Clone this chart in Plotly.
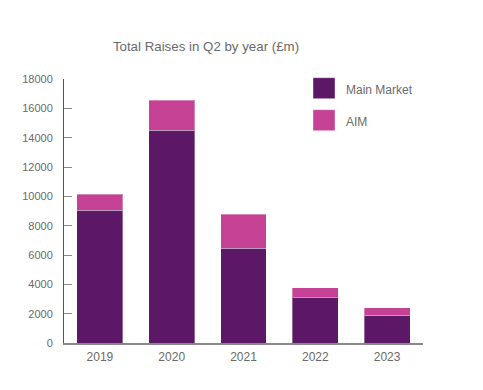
import plotly.graph_objects as go

years = ["2019", "2020", "2021", "2022", "2023"]
main_market = [9050, 14500, 6450, 3100, 1880]
aim = [1100, 2050, 2330, 660, 540]
series_names = ["Main Market", "AIM"]
colors = ["#5C1866", "#C44194"]
title_text = "Total Raises in Q2 by year (£m)"
y_ticks = [0, 2000, 4000, 6000, 8000, 10000, 12000, 14000, 16000, 18000]

font_family = "Liberation Sans, Arial, Helvetica, sans-serif"
grey = "#6a6a6a"

# the page body adds an 8px offset; compensate in margins
OFF = 8
plot_left, plot_right, plot_top, plot_bottom = 64, 423, 79.3, 343.3
W, H = 483, 390

fig = go.Figure()
for name, vals, col in zip(series_names, [main_market, aim], colors):
    fig.add_trace(go.Bar(
        x=years, y=vals, name=name, marker_color=col,
        marker_line=dict(color="rgba(255,255,255,0.35)", width=1),
        showlegend=False,
    ))

pw = plot_right - plot_left
ph = plot_bottom - plot_top
# manual legend (squares + labels)
for i, (name, col) in enumerate(zip(series_names, colors)):
    y0 = 78 + i * 32
    fig.add_shape(type="rect", xref="paper", yref="paper",
                  x0=(313 - plot_left) / pw, x1=(335 - plot_left) / pw,
                  y0=(plot_bottom - (y0 + 21)) / ph, y1=(plot_bottom - y0) / ph,
                  fillcolor=col, line=dict(color="rgba(255,255,255,0.4)", width=1))
    fig.add_annotation(text=name, xref="paper", yref="paper",
                       x=(344 - plot_left) / pw, y=(plot_bottom - (y0 + 12)) / ph,
                       xanchor="left", yanchor="middle", showarrow=False,
                       font=dict(family=font_family, size=12, color=grey))

fig.update_layout(
    barmode="stack",
    bargap=0.36,
    width=W, height=H,
    margin=dict(l=plot_left - OFF, r=W - (plot_right - OFF), t=plot_top - OFF,
                b=H - (plot_bottom - OFF), pad=0),
    paper_bgcolor="white", plot_bgcolor="white",
    title=dict(text=title_text, x=(206 - OFF) / W, xanchor="center",
               y=1 - (46 - OFF) / H, yanchor="middle",
               font=dict(family=font_family, size=13.3, color=grey)),
    xaxis=dict(showline=True, linecolor="#888888", linewidth=1.5, ticks="",
               tickfont=dict(family=font_family, size=12, color=grey),
               ticklabelstandoff=2,
               showgrid=False, zeroline=False, automargin=False),
    yaxis=dict(range=[0, 18000], tickvals=y_ticks, tickformat="d", showline=True,
               linecolor="#555555", linewidth=1, ticks="inside", ticklen=8,
               tickcolor="#888888",
               tickfont=dict(family=font_family, size=11, color=grey),
               ticklabelstandoff=8, automargin=False,
               showgrid=False, zeroline=False),
)

fig.write_html("out.html")
